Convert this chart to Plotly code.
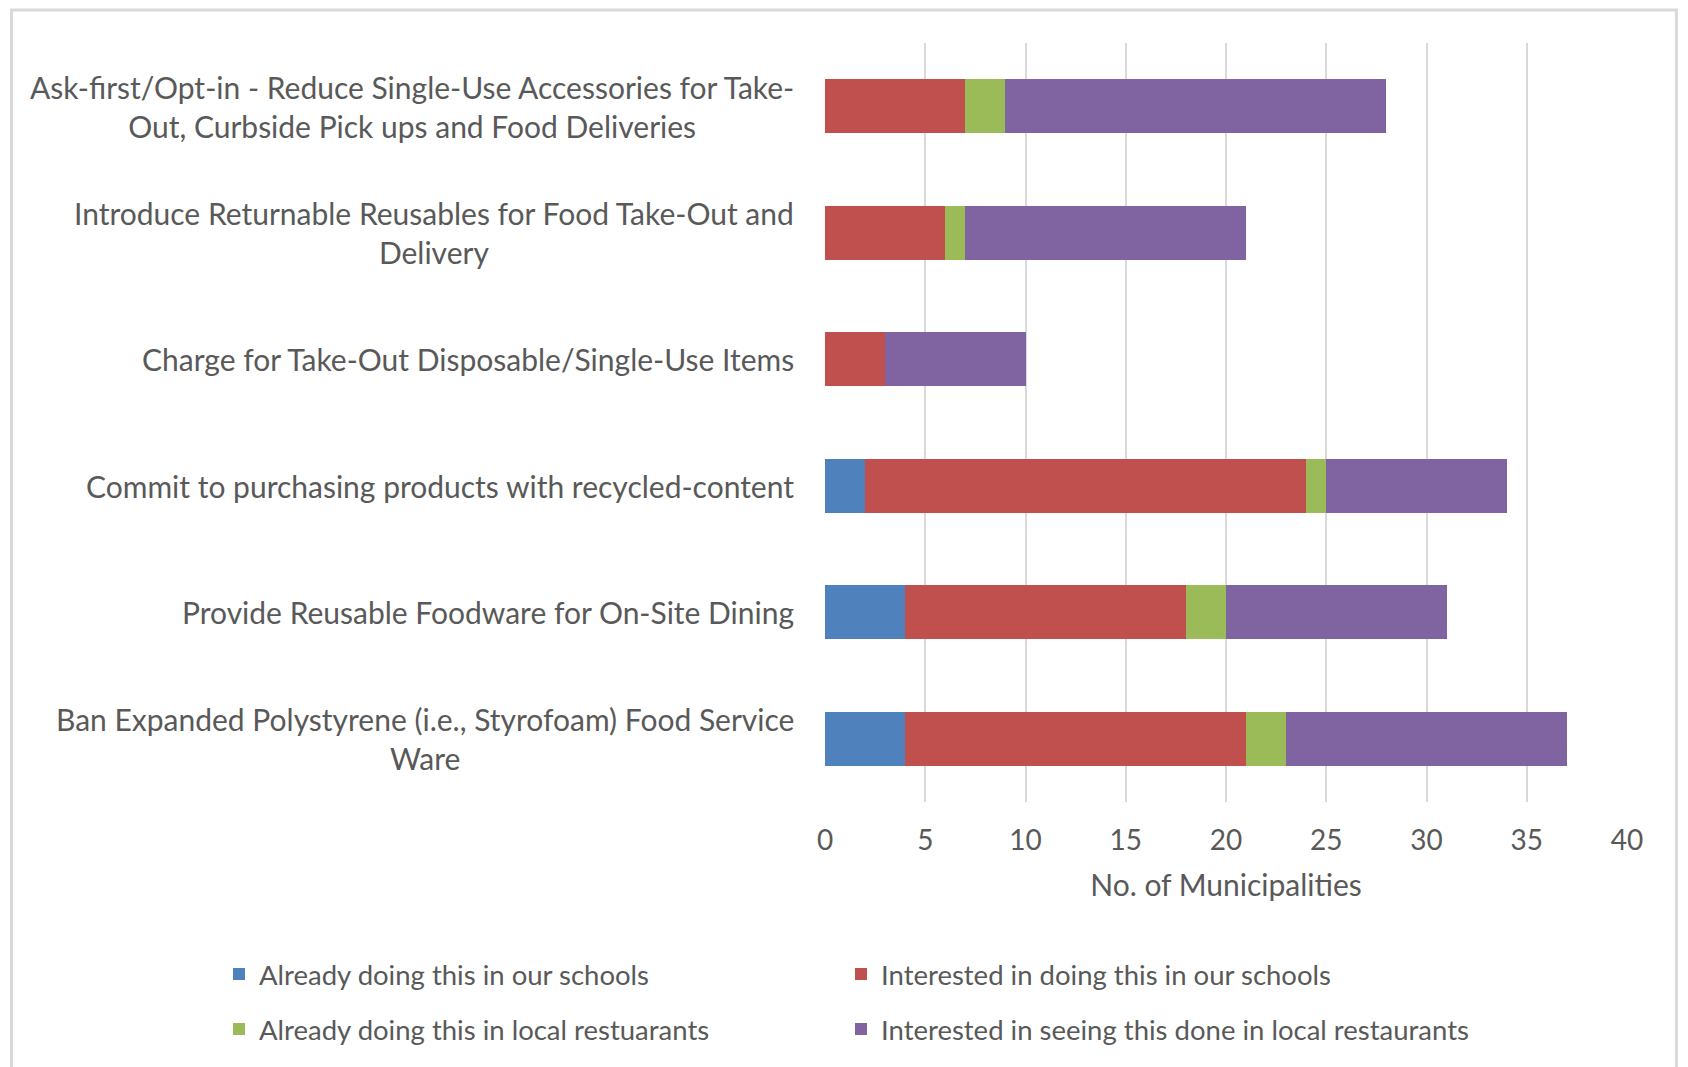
import plotly.graph_objects as go

categories = [
    "Ask-first/Opt-in - Reduce Single-Use Accessories for Take-<br>Out, Curbside Pick ups and Food Deliveries",
    "Introduce Returnable Reusables for Food Take-Out and<br>Delivery",
    "Charge for Take-Out Disposable/Single-Use Items",
    "Commit to purchasing products with recycled-content",
    "Provide Reusable Foodware for On-Site Dining",
    "Ban Expanded Polystyrene (i.e., Styrofoam) Food Service<br>Ware",
]
cat_keys = ["c%d" % i for i in range(len(categories))]

already_schools = [0, 0, 0, 2, 4, 4]
interested_schools = [7, 6, 3, 22, 14, 17]
already_restaurants = [2, 1, 0, 1, 2, 2]
interested_restaurants = [19, 14, 7, 9, 11, 14]

series_names = [
    "Already doing this in our schools",
    "Interested in doing this in our schools",
    "Already doing this in local restuarants",
    "Interested in seeing this done in local restaurants",
]
series_values = [already_schools, interested_schools, already_restaurants, interested_restaurants]
colors = ["#4F81BD", "#C0504D", "#9BBB59", "#8064A2"]
legend_ids = ["legend", "legend2", "legend3", "legend4"]

x_ticks = [0, 5, 10, 15, 20, 25, 30, 35, 40]

FONT = "Lato"
GRAY = "#595959"

fig = go.Figure()
for name, vals, col, lg in zip(series_names, series_values, colors, legend_ids):
    fig.add_trace(go.Bar(
        y=cat_keys, x=vals, name=name, orientation="h",
        marker=dict(color=col, line=dict(width=0)),
        legend=lg, showlegend=True,
    ))

for key, label in zip(cat_keys, categories):
    fig.add_annotation(
        x=-0.036, xref="paper", y=key, yref="y",
        text=label, showarrow=False, xanchor="right", yanchor="middle",
        align="center", font=dict(family=FONT, size=30, color=GRAY),
    )

PW = 803.0
PH = 759.0
PLOT_L = 816.5
PLOT_T = 35.0
PLOT_B = PLOT_T + PH

fig.add_shape(type="rect", xref="paper", yref="paper",
              x0=(2 - PLOT_L) / PW, x1=(1669 - PLOT_L) / PW,
              y0=(PLOT_B - 1100) / PH, y1=(PLOT_B - 2) / PH,
              line=dict(color="#D9D9D9", width=3), fillcolor="rgba(0,0,0,0)", layer="below")


def make_legend(x_px, y_px):
    return dict(
        orientation="h", x=x_px / 1688.0, xanchor="left",
        y=(PLOT_B - y_px) / PH, yanchor="middle", xref="container",
        font=dict(family=FONT, size=27.5, color=GRAY), itemwidth=30,
        bgcolor="rgba(0,0,0,0)", visible=True,
    )


fig.update_layout(
    width=1688, height=1067,
    margin=dict(l=PLOT_L, r=1688 - PLOT_L - PW, t=PLOT_T, b=1067 - PLOT_B, autoexpand=False),
    showlegend=True,
    barmode="stack",
    bargap=0.57,
    plot_bgcolor="white",
    paper_bgcolor="white",
    font=dict(family=FONT, size=28, color=GRAY),
    xaxis=dict(
        range=[0, 40], tickvals=x_ticks, showgrid=True, gridcolor="#D9D9D9", gridwidth=1.5,
        zeroline=False, showline=False, ticks="", ticklabelstandoff=19, automargin=False,
        tickfont=dict(family=FONT, size=28, color=GRAY),
        title=dict(text="No. of Municipalities", font=dict(family=FONT, size=30, color=GRAY), standoff=19),
    ),
    yaxis=dict(
        categoryorder="array", categoryarray=cat_keys, autorange="reversed", automargin=False,
        showticklabels=False, showgrid=False, zeroline=False, showline=False, ticks="",
    ),
    legend=make_legend(211, 966),
    legend2=make_legend(833, 966),
    legend3=make_legend(211, 1021),
    legend4=make_legend(833, 1021),
)

fig.write_html("out.html")
